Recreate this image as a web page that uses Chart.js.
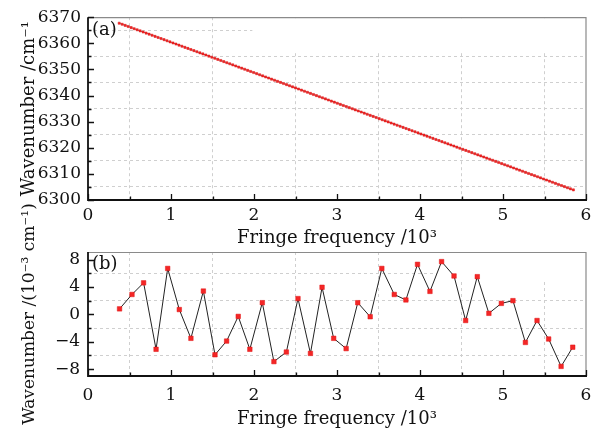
<!DOCTYPE html>
<html>
<head>
<meta charset="utf-8">
<script src="https://cdn.jsdelivr.net/npm/chart.js@4.4.1/dist/chart.umd.min.js"></script>
<style>
  html, body { margin: 0; padding: 0; background: #fff; }
  #wrap { position: relative; width: 606px; height: 430px; }
  #wrap canvas { position: absolute; left: 0; top: 0; }
</style>
</head>
<body>
<div id="wrap">
  <canvas id="chartA" width="606" height="430"></canvas>
  <canvas id="chartB" width="606" height="430"></canvas>
</div>
<script>
// (a) measured wavenumber vs fringe frequency (10^3)
var freqA = [
    0.376, 0.412, 0.448, 0.484, 0.520, 0.556, 0.592, 0.628, 0.664, 0.700,
    0.736, 0.772, 0.808, 0.844, 0.880, 0.916, 0.952, 0.988, 1.024, 1.060,
    1.096, 1.132, 1.168, 1.204, 1.240, 1.276, 1.312, 1.348, 1.384, 1.420,
    1.456, 1.492, 1.528, 1.564, 1.600, 1.636, 1.672, 1.708, 1.744, 1.780,
    1.816, 1.852, 1.888, 1.924, 1.960, 1.996, 2.032, 2.068, 2.104, 2.140,
    2.176, 2.212, 2.248, 2.284, 2.320, 2.356, 2.392, 2.428, 2.464, 2.500,
    2.536, 2.572, 2.608, 2.644, 2.680, 2.716, 2.752, 2.788, 2.824, 2.860,
    2.896, 2.932, 2.968, 3.004, 3.040, 3.076, 3.112, 3.148, 3.184, 3.220,
    3.256, 3.292, 3.328, 3.364, 3.400, 3.436, 3.472, 3.508, 3.544, 3.580,
    3.616, 3.652, 3.688, 3.724, 3.760, 3.796, 3.832, 3.868, 3.904, 3.940,
    3.976, 4.012, 4.048, 4.084, 4.120, 4.156, 4.192, 4.228, 4.264, 4.300,
    4.336, 4.372, 4.408, 4.444, 4.480, 4.516, 4.552, 4.588, 4.624, 4.660,
    4.696, 4.732, 4.768, 4.804, 4.840, 4.876, 4.912, 4.948, 4.984, 5.020,
    5.056, 5.092, 5.128, 5.164, 5.200, 5.236, 5.272, 5.308, 5.344, 5.380,
    5.416, 5.452, 5.488, 5.524, 5.560, 5.596, 5.632, 5.668, 5.704, 5.740,
    5.776, 5.812, 5.848
];
var waveA = [
    6367.70, 6367.28, 6366.86, 6366.44, 6366.02, 6365.60, 6365.18, 6364.76, 6364.34, 6363.92,
    6363.50, 6363.08, 6362.66, 6362.24, 6361.82, 6361.40, 6360.98, 6360.56, 6360.14, 6359.72,
    6359.30, 6358.88, 6358.46, 6358.04, 6357.62, 6357.20, 6356.78, 6356.36, 6355.94, 6355.52,
    6355.10, 6354.68, 6354.26, 6353.84, 6353.42, 6353.00, 6352.58, 6352.16, 6351.74, 6351.32,
    6350.90, 6350.48, 6350.06, 6349.64, 6349.22, 6348.80, 6348.38, 6347.96, 6347.54, 6347.12,
    6346.70, 6346.28, 6345.86, 6345.44, 6345.02, 6344.60, 6344.18, 6343.76, 6343.34, 6342.92,
    6342.50, 6342.08, 6341.66, 6341.24, 6340.82, 6340.40, 6339.98, 6339.56, 6339.14, 6338.72,
    6338.30, 6337.88, 6337.46, 6337.04, 6336.62, 6336.20, 6335.78, 6335.36, 6334.94, 6334.52,
    6334.10, 6333.68, 6333.26, 6332.84, 6332.42, 6332.00, 6331.58, 6331.16, 6330.74, 6330.32,
    6329.90, 6329.48, 6329.06, 6328.64, 6328.22, 6327.80, 6327.38, 6326.96, 6326.54, 6326.12,
    6325.70, 6325.28, 6324.86, 6324.44, 6324.02, 6323.60, 6323.18, 6322.76, 6322.34, 6321.92,
    6321.50, 6321.08, 6320.66, 6320.24, 6319.82, 6319.40, 6318.98, 6318.56, 6318.14, 6317.72,
    6317.30, 6316.88, 6316.46, 6316.04, 6315.62, 6315.20, 6314.78, 6314.36, 6313.94, 6313.52,
    6313.10, 6312.68, 6312.26, 6311.84, 6311.42, 6311.00, 6310.58, 6310.16, 6309.74, 6309.32,
    6308.90, 6308.48, 6308.06, 6307.64, 6307.22, 6306.80, 6306.38, 6305.96, 6305.54, 6305.12,
    6304.70, 6304.28, 6303.86
];

// (b) residuals, 10^-3 cm^-1
var freqB = [0.38, 0.53, 0.67, 0.82, 0.96, 1.10, 1.24, 1.39, 1.53, 1.67, 1.81, 1.95, 2.10,
             2.24, 2.39, 2.53, 2.68, 2.82, 2.96, 3.11, 3.25, 3.40, 3.54, 3.69, 3.83, 3.97,
             4.12, 4.26, 4.41, 4.55, 4.69, 4.83, 4.98, 5.12, 5.27, 5.41, 5.55, 5.70, 5.84];
var residB = [0.8, 2.9, 4.6, -5.1, 6.7, 0.7, -3.5, 3.4, -5.9, -3.9, -0.3, -5.1, 1.7,
              -6.9, -5.5, 2.3, -5.7, 3.95, -3.5, -5.0, 1.7, -0.35, 6.7, 2.9, 2.1, 7.3,
              3.35, 7.7, 5.6, -0.9, 5.5, 0.15, 1.6, 2.0, -4.1, -0.9, -3.6, -7.6, -4.8];

// ticks
var xMajor = [0, 1, 2, 3, 4, 5, 6];
var xMinor = [0.5, 1.5, 2.5, 3.5, 4.5, 5.5];
var yMajorA = [6300, 6310, 6320, 6330, 6340, 6350, 6360, 6370];
var yMinorA = [6305, 6315, 6325, 6335, 6345, 6355, 6365];
var yMajorB = [-8, -4, 0, 4, 8];
var yMinorB = [-6, -2, 2, 6];

var FONT = 'DejaVu Serif';

function pts(xs, ys) {
    return xs.map(function (x, i) { return { x: x, y: ys[i] }; });
}

function setTicks(major, minor) {
    return function (s) {
        s.ticks = major.concat(minor).sort(function (a, b) { return a - b; })
            .map(function (v) { return { value: v }; });
    };
}

function gridCol(minor) {
    return function (c) {
        return c.tick && minor.indexOf(c.tick.value) >= 0 ? '#cfcfcf' : 'rgba(0,0,0,0)';
    };
}

function lbl(major) {
    return function (v) {
        return major.indexOf(v) >= 0 ? String(v).replace('-', '\u2212') : '';
    };
}

// axes, inward ticks, panel tag
var framePlugin = {
    id: 'frame',
    beforeDatasetsDraw: function (chart, args, o) {
        if (!o.blank) return;
        var ctx = chart.ctx, a = chart.chartArea;
        var x0 = chart.scales.x.getPixelForValue(o.blank[0]);
        var y0 = chart.scales.y.getPixelForValue(o.blank[1]);
        ctx.save();
        ctx.fillStyle = '#fff';
        ctx.fillRect(x0, a.top + 1, a.right - x0 - 1, y0 - a.top - 1);
        ctx.restore();
    },
    afterDraw: function (chart, args, o) {
        var ctx = chart.ctx, a = chart.chartArea;
        var sx = chart.scales.x, sy = chart.scales.y;
        ctx.save();
        // top / right frame
        ctx.strokeStyle = '#8a8a8a';
        ctx.lineWidth = 1.2;
        ctx.beginPath();
        ctx.moveTo(a.left, a.top + 0.5);
        ctx.lineTo(a.right, a.top + 0.5);
        ctx.lineTo(a.right, a.bottom);
        ctx.stroke();
        // ticks
        ctx.strokeStyle = '#111';
        ctx.lineWidth = 1.3;
        ctx.beginPath();
        o.xMajor.concat(o.xMinor).forEach(function (v) {
            var px = Math.round(sx.getPixelForValue(v)) + 0.5;
            var len = o.xMajor.indexOf(v) >= 0 ? 6 : 3.5;
            ctx.moveTo(px, a.bottom);
            ctx.lineTo(px, a.bottom - len);
        });
        o.yMajor.concat(o.yMinor).forEach(function (v) {
            var py = Math.round(sy.getPixelForValue(v)) + 0.5;
            var len = o.yMajor.indexOf(v) >= 0 ? 6 : 3.5;
            ctx.moveTo(a.left, py);
            ctx.lineTo(a.left + len, py);
        });
        ctx.stroke();
        // left / bottom axis
        ctx.lineWidth = 1.8;
        ctx.beginPath();
        ctx.moveTo(a.left, a.top);
        ctx.lineTo(a.left, a.bottom);
        ctx.lineTo(a.right + 1, a.bottom);
        ctx.stroke();
        // panel tag
        ctx.fillStyle = '#111';
        ctx.font = '18px "' + FONT + '"';
        ctx.textBaseline = 'middle';
        ctx.fillText(o.tag, a.left + 4, a.top + o.tagDy);
        ctx.restore();
    }
};

function makeChart(id, cfg) {
    return new Chart(document.getElementById(id).getContext('2d'), {
        type: 'scatter',
        data: {
            datasets: [{
                data: cfg.data,
                showLine: true,
                borderColor: '#222',
                borderWidth: cfg.lineW,
                pointStyle: 'rect',
                pointRadius: cfg.pr,
                pointBackgroundColor: '#f42626',
                pointBorderColor: '#e01515',
                pointBorderWidth: 0.5
            }]
        },
        options: {
            responsive: false,
            animation: false,
            events: [],
            layout: { padding: cfg.pad },
            plugins: {
                legend: { display: false },
                tooltip: { enabled: false },
                frame: cfg.frame
            },
            scales: {
                x: {
                    type: 'linear',
                    min: 0,
                    max: 6,
                    afterBuildTicks: setTicks(xMajor, xMinor),
                    afterFit: function (s) { s.height = cfg.xH; },
                    grid: { color: gridCol(xMinor), drawTicks: false, lineWidth: 1 },
                    border: { display: false, dash: [3, 3] },
                    ticks: {
                        autoSkip: false, maxRotation: 0, padding: cfg.xPad,
                        color: '#111', font: { family: FONT, size: 17 },
                        callback: lbl(xMajor)
                    },
                    title: {
                        display: true,
                        text: 'Fringe frequency /10\u00b3',
                        color: '#111',
                        font: { family: FONT, size: 18 },
                        padding: { top: 0, bottom: cfg.xTitlePad }
                    }
                },
                y: {
                    min: cfg.yMin,
                    max: cfg.yMax,
                    afterBuildTicks: setTicks(cfg.yMajor, cfg.yMinor),
                    afterFit: function (s) { s.width = 88; },
                    grid: { color: gridCol(cfg.yMinor), drawTicks: false, lineWidth: 1 },
                    border: { display: false, dash: [3, 3] },
                    ticks: {
                        autoSkip: false, padding: cfg.yPad,
                        color: '#111', font: { family: FONT, size: 17 },
                        callback: lbl(cfg.yMajor)
                    },
                    title: {
                        display: true,
                        text: cfg.yTitle,
                        color: '#111',
                        font: { family: FONT, size: cfg.yTitleSize },
                        padding: { top: 19, bottom: 0 }
                    }
                }
            }
        },
        plugins: [framePlugin]
    });
}

makeChart('chartA', {
    data: pts(freqA, waveA),
    lineW: 0.6,
    pr: 1.5,
    pad: { top: 15, right: 20, bottom: 178, left: 0 },
    xH: 52,
    xPad: 5,
    xTitlePad: 3,
    yPad: 7,
    yMin: 6300,
    yMax: 6370,
    yMajor: yMajorA,
    yMinor: yMinorA,
    yTitle: 'Wavenumber /cm\u207b\u00b9',
    yTitleSize: 18,
    frame: { tag: '(a)', tagDy: 13, xMajor: xMajor, xMinor: xMinor,
             yMajor: yMajorA, yMinor: yMinorA, blank: [1.98, 6357] }
});

makeChart('chartB', {
    data: pts(freqB, residB),
    lineW: 1,
    pr: 3.2,
    pad: { top: 252, right: 20, bottom: 0, left: 0 },
    xH: 54,
    xPad: 9,
    xTitlePad: 0,
    yPad: 8,
    yMin: -9,
    yMax: 9.1,
    yMajor: yMajorB,
    yMinor: yMinorB,
    yTitle: 'Wavenumber /(10\u207b\u00b3 cm\u207b\u00b9)',
    yTitleSize: 17,
    frame: { tag: '(b)', tagDy: 12, xMajor: xMajor, xMinor: xMinor,
             yMajor: yMajorB, yMinor: yMinorB, blank: [4.2, 4.9] }
});
</script>
</body>
</html>
